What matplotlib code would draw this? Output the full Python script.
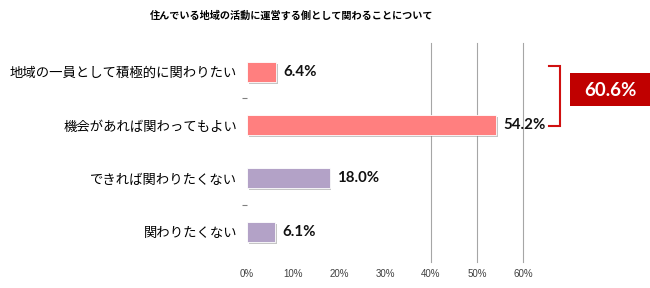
import matplotlib
matplotlib.use('Agg')
import matplotlib.pyplot as plt
import matplotlib.patheffects as pe
from matplotlib.patches import Rectangle
import numpy as np

plt.rcParams['font.family'] = ['Noto Sans CJK JP', 'DejaVu Sans']

title = '住んでいる地域の活動に運営する側として関わることについて'
categories = ['地域の一員として積極的に関わりたい', '機会があれば関わってもよい',
              'できれば関わりたくない', '関わりたくない']
values = [6.4, 54.2, 18.0, 6.1]
colors = ['#FF7F7F', '#FF7F7F', '#B3A2C7', '#B3A2C7']
total_label = '60.6%'
xticks = [0, 10, 20, 30, 40, 50, 60]
grid_at = [40, 50, 60]

fig = plt.figure(figsize=(6.5, 2.88), dpi=100)
ax = fig.add_axes([247 / 650, 1 - 262 / 288, 276 / 650, 219 / 288])

y = np.arange(len(categories))
shadow = [pe.SimplePatchShadow(offset=(1.2, -1.5), shadow_rgbFace='#808080', alpha=0.45),
          pe.Normal()]
bars = ax.barh(y, values, height=0.375, color=colors, edgecolor='white', linewidth=0.6,
               zorder=3)
for b in bars:
    b.set_path_effects(shadow)

for yi, v in zip(y, values):
    ax.text(v + 1.6, yi, '%.1f%%' % v, va='center', ha='left', fontsize=10.8,
            fontweight='bold', family=['Lato', 'DejaVu Sans'], color='#111111', zorder=4)

for g in grid_at:
    ax.axvline(g, color='#A6A6A6', lw=0.8, zorder=1, clip_on=False)

ax.set_xlim(0, 60)
ax.set_ylim(3.57, -0.54)
ax.set_xticks(xticks)
ax.set_xticklabels(['%d%%' % t for t in xticks], fontsize=7, color='#404040',
                   family=['Liberation Sans Narrow', 'Liberation Sans', 'DejaVu Sans'])
ax.set_yticks(y)
ax.set_yticklabels(categories, fontsize=9.6, color='#000000')
ax.set_yticks([0.5, 2.5], minor=True)
ax.tick_params(axis='y', which='major', length=0, pad=7)
ax.tick_params(axis='y', which='minor', length=3.5, width=0.8, color='#808080')
ax.tick_params(axis='x', length=0, pad=5)
for s in ax.spines.values():
    s.set_visible(False)

# bracket around the first two bars
bx0, bx1 = 65.6, 68.0
by0, by1 = y[0] - 0.11, y[1] + 0.02
ax.plot([bx0, bx1, bx1, bx0], [by0, by0, by1, by1], color='#D01010', lw=1.5,
        clip_on=False, solid_joinstyle='miter')

# red total box
fig.patches.append(Rectangle((570 / 650, 1 - 106 / 288), 80 / 650, 33 / 288,
                             transform=fig.transFigure, facecolor='#C00000',
                             edgecolor='none'))
fig.text(610 / 650, 1 - 90 / 288, total_label, ha='center', va='center', color='white',
         fontsize=13.5, fontweight='bold', family=['Lato', 'DejaVu Sans'])

fig.text(292 / 650, 1 - 16 / 288, title, ha='center', va='center', fontsize=7.3,
         fontweight='bold', color='#000000')

fig.savefig('out.png', dpi=100)
